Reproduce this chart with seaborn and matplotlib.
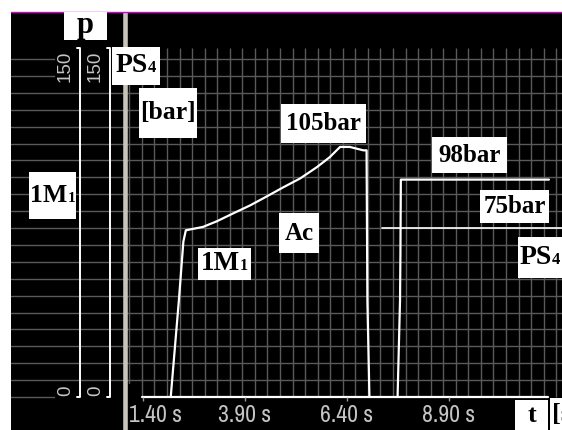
"""
Druckverlauf 1M1 / PS4 - Nachbau der Oszilloskop-Ansicht.
"""

import matplotlib
matplotlib.use("Agg")
import matplotlib.pyplot as plt
import seaborn as sns
import numpy as np
from matplotlib.patches import Rectangle
from matplotlib.lines import Line2D
from matplotlib.offsetbox import TextArea, HPacker, AnnotationBbox

W, H = 562, 430

# Druck am Zylinder 1M1 [bar] ueber Zeit [s]
time_1m1 = [2.08, 2.28, 2.39, 2.45, 2.59, 2.87, 3.21, 3.61, 4.02, 4.43,
            4.83, 5.25, 5.66, 5.98, 6.23, 6.47, 6.80, 6.88, 6.90, 6.95]
pressure_1m1 = [0, 43, 69, 74, 74.5, 75.5, 78, 81.5, 85, 89,
                93, 97, 102, 106.5, 111, 111, 109.5, 109.5, 43, 0]

# Signal Druckschalter PS4
time_ps4 = [7.64, 7.70, 7.71, 7.72, 11.35]
pressure_ps4 = [0, 43, 64, 96.5, 96.5]

# Schaltpunkt PS4
ps4_setpoint = 75
ps4_setpoint_start = 7.27

tick_times = [1.40, 3.90, 6.40, 8.90]
p_tick_values = [150, 0]

GRID = "#5a5a5a"
TICK_TXT = "#c4c4c4"
SERIF = "Liberation Serif"


def fx(px):
    return px / W


def fy(py):
    return 1 - py / H


def label_box(fig, x0, y0, x1, y1, text, size, sub=None):
    fig.add_artist(Rectangle((fx(x0), fy(y1)), (x1 - x0) / W, (y1 - y0) / H,
                             transform=fig.transFigure, facecolor="white",
                             edgecolor="none", zorder=5))
    props = dict(family=SERIF, weight="bold", size=size, color="black")
    parts = [TextArea(text, textprops=props)]
    if sub:
        parts.append(TextArea(sub, textprops={**props, "size": size * 0.6}))
    pack = HPacker(children=parts, align="baseline", pad=0, sep=0)
    ab = AnnotationBbox(pack, (fx((x0 + x1) / 2), fy((y0 + y1) / 2)),
                        xycoords="figure fraction", frameon=False,
                        box_alignment=(0.5, 0.5), zorder=6)
    fig.add_artist(ab)


def draw_grid(ax):
    for p in np.arange(7.5, 150.1, 7.5):
        ax.axhline(p, color=GRID, lw=1.0, zorder=1)
    ax.hlines(0, -1.9, -0.75, color=GRID, lw=1.0, zorder=1)
    ax.vlines(1.064 + 0.3078 * np.arange(35), 0, 154.9, color=GRID, lw=1.0, zorder=1)
    # schwarze Flaechen hinter den Skalenbeschriftungen
    for x0, y0, x1, y1 in [(55, 46, 122, 86), (55, 384, 141, 430)]:
        ax.add_patch(Rectangle((fx(x0), fy(y1)), (x1 - x0) / W, (y1 - y0) / H,
                               transform=ax.figure.transFigure,
                               facecolor="black", edgecolor="none", zorder=2))


def draw_scales(ax):
    for xs in [-0.144, 0.591]:
        ax.plot([xs - 0.07, xs, xs, xs - 0.07], [154.9, 154.9, 0, 0],
                color="white", lw=1.4, zorder=3)
        for p in p_tick_values:
            y = 147 if p == 150 else 2.7
            ax.text(xs - 0.36, y, str(p), rotation=90, ha="center", va="center",
                    fontsize=13.5, family="Liberation Sans", color=TICK_TXT, zorder=5)
    ax.axvline(0.971, color="#c8c4bc", lw=3.3, zorder=4)

    ax.plot([1.368, 11.33], [0, 0], color="white", lw=1.6, zorder=3)
    ax.vlines(tick_times, -1.6, 0, color="#999999", lw=1.0, zorder=3)
    for i, t in enumerate(tick_times):
        x, ha = (1.06, "left") if i == 0 else (t, "center")
        ax.text(x, -8.2, f"{t:.2f} s", ha=ha, va="center", fontsize=17,
                family=["Archivo Narrow", "DejaVu Sans"],
                color=TICK_TXT, zorder=5)


def plot_traces(ax):
    sns.lineplot(x=time_1m1, y=pressure_1m1, ax=ax, color="white", lw=1.6,
                 estimator=None, sort=False, zorder=3)
    sns.lineplot(x=time_ps4, y=pressure_ps4, ax=ax, color="white", lw=1.6,
                 estimator=None, sort=False, zorder=3)
    ax.plot([ps4_setpoint_start, 12], [ps4_setpoint] * 2, color="white", lw=1.2, zorder=3)


def main():
    sns.set_theme(style="dark")
    plt.rcParams["font.family"] = [SERIF, "DejaVu Sans"]

    fig = plt.figure(figsize=(W / 100, H / 100), dpi=100, facecolor="white")
    ax = fig.add_axes([fx(11), 0, (W - 11) / W, (H - 12) / H])
    ax.set_facecolor("black")
    ax.set_xlim(-1.835, 11.67)
    ax.set_ylim(-14.65, 170.9)
    ax.set_xticks([])
    ax.set_yticks([])
    for s in ax.spines.values():
        s.set_visible(False)

    draw_grid(ax)
    draw_scales(ax)
    plot_traces(ax)

    fig.add_artist(Line2D([fx(11), 1], [fy(11.5)] * 2, color="#d000d0", lw=1.0))

    boxes = [
        (64, 12, 107, 40, "p", 22),
        (112, 47, 160, 85, "PS", 20, "4"),
        (139, 88, 197, 138, "[bar]", 18.5),
        (29, 172, 76, 219, "1M", 18.5, "1"),
        (281, 104, 366, 143, "105bar", 18),
        (198, 248, 251, 280, "1M", 19.5, "1"),
        (279, 213, 319, 253, "Ac", 18),
        (432, 137, 507, 173, "98bar", 18),
        (480, 190, 549, 223, "75bar", 18),
        (518, 237, 562, 278, "PS", 20, "4"),
        (515, 400, 548, 432, "t", 19),
        (550, 398, 573, 432, "[s", 19),
    ]
    for b in boxes:
        label_box(fig, *b)

    fig.savefig("out.png", dpi=100, facecolor="white")
    plt.close(fig)


if __name__ == "__main__":
    main()
